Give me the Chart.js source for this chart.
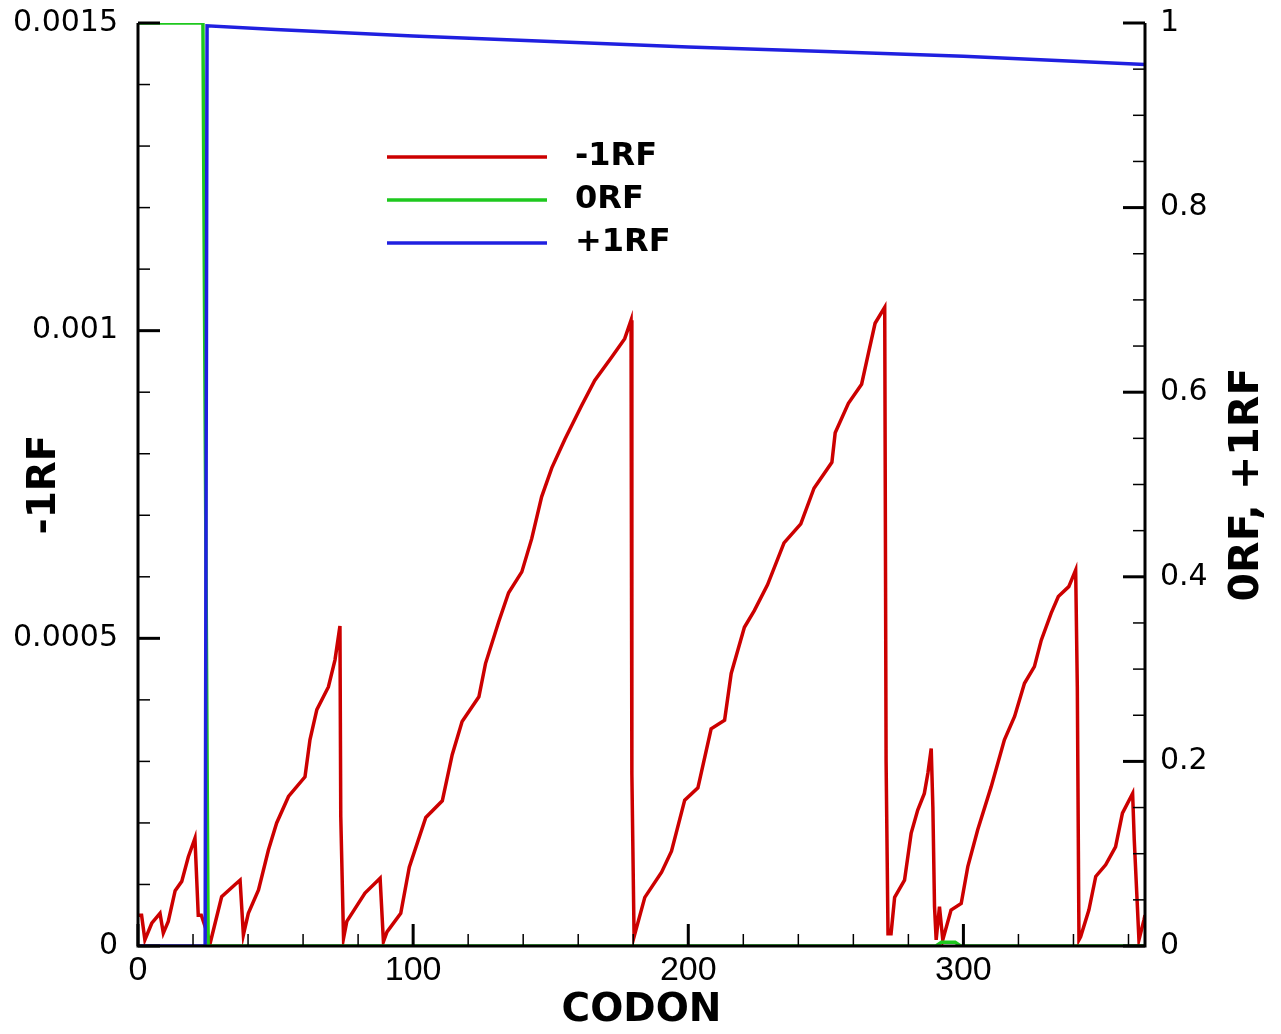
<!DOCTYPE html>
<html><head><meta charset="utf-8">
<script src="https://cdn.jsdelivr.net/npm/chart.js@4.4.1/dist/chart.umd.min.js"></script>
<style>html,body{margin:0;padding:0;background:#fff;}canvas{display:block;}</style>
</head><body>
<canvas id="c" width="1281" height="1034"></canvas>
<script>
// ---- data ----
const redCodon = [0,1.3,2.5,5,8,9.2,11,13.5,15.9,18.3,20.7,21.9,23,24.5,26.2,30.4,35.3,37.1,38.3,40.1,43.8,47.4,50.4,54.7,60.7,62.5,65,69.2,71.6,73.4,73.7,74.7,75.9,82.5,88,89.2,90.5,95.5,98.6,104.6,110.6,114.2,117.8,123.9,126.3,131.1,134.7,139.5,143.1,146.7,150.4,155.2,161.2,166,172,176.9,179.2,179.5,180.3,184.2,190.3,193.9,198.7,203.5,208.3,213.2,215.6,220.4,224,228.8,234.8,240.9,245.7,252.2,253.4,258.2,263,265.5,267.9,271.4,271.9,272.6,273.7,275,278.6,281,283.4,285.8,287.1,288.3,288.9,289.5,290.1,291.3,292.5,295.5,299.2,301.6,305.2,310.1,314.9,318.6,322.2,325.8,328.3,331.9,334.5,338.3,340.8,341.4,342.0,342.6,345.6,348.1,351.7,355.3,357.8,361.5,362.1,363.8,365.6,366];
const redValue = [0.00005,0.00005,0.00001,0.000037,0.000053,0.000021,0.00004,0.00009,0.000105,0.000145,0.000175,0.00005,0.00005,0.00003,0.000004,0.00008,0.0001,0.000107,0.000018,0.000053,0.000091,0.000156,0.0002,0.000243,0.000275,0.000335,0.000384,0.000421,0.000465,0.00052,0.00021,0.0000125,0.00004,0.000086,0.00011,0.000007,0.000023,0.000053,0.000128,0.000209,0.000236,0.000311,0.000365,0.000405,0.000459,0.000527,0.000574,0.000608,0.000662,0.00073,0.000777,0.000824,0.000878,0.000919,0.000956,0.000987,0.001017,0.00028,0.000015,0.000079,0.00012,0.000154,0.000237,0.000257,0.000353,0.000367,0.000443,0.000518,0.000545,0.000587,0.000655,0.000686,0.000744,0.000786,0.000834,0.000882,0.000913,0.000964,0.001012,0.001038,0.0003,0.00002,0.00002,0.000079,0.000107,0.000183,0.000221,0.000248,0.000281,0.000321,0.000226,0.000064,0.00001,0.000064,0.00001,0.0000585,0.000069,0.000129,0.000189,0.000259,0.000335,0.000373,0.000427,0.000454,0.000497,0.000541,0.000568,0.000584,0.000611,0.000421,0.00001,0.000015,0.0000585,0.000113,0.000132,0.000161,0.000216,0.000248,0.000172,0.00001,0.000042,0.00005];
const greenCodon = [0,23.6,25.5,290,292,297,299,366];
const greenValue = [1,1,0,0,0.004,0.004,0,0];
const blueCodon = [0,24.4,25.1,50,100,150,200,250,300,366];
const blueValue = [0,0,0.997,0.993,0.986,0.980,0.974,0.969,0.964,0.955];
const xTickValues = [0,100,200,300];
const leftTickValues = [0,0.0005,0.001,0.0015];
const rightTickValues = [0,0.2,0.4,0.6,0.8,1];
const seriesLabels = ['-1RF','0RF','+1RF'];
const seriesColors = ['#cc0000','#1ec81e','#2020e0'];
const xTitle = 'CODON', leftTitle = '-1RF', rightTitle = '0RF, +1RF';

const toPts = (xs, ys) => xs.map((x, i) => ({x, y: ys[i]}));

const decor = {
  id: 'decor',
  afterDatasetsDraw(chart) {
    const {ctx, chartArea: a, scales} = chart;
    const x = scales.x, yl = scales.yL, yr = scales.yR;
    ctx.save();
    ctx.strokeStyle = '#000';
    ctx.lineCap = 'butt';
    ctx.lineWidth = 3;
    ctx.beginPath();
    ctx.moveTo(a.left, a.top); ctx.lineTo(a.left, a.bottom); ctx.lineTo(a.right, a.bottom); ctx.lineTo(a.right, a.top);
    ctx.stroke();
    const tick = (x1, y1, x2, y2, w) => { ctx.lineWidth = w; ctx.beginPath(); ctx.moveTo(x1, y1); ctx.lineTo(x2, y2); ctx.stroke(); };
    for (let i = 0; i * 20 <= x.max; i++) {
      const px = x.getPixelForValue(i * 20), maj = i % 5 === 0;
      tick(px, a.bottom, px, a.bottom - (maj ? 22 : 12), maj ? 3 : 1.5);
    }
    for (let i = 0; i <= 15; i++) {
      const py = yl.getPixelForValue(i * 0.0001), maj = i % 5 === 0;
      tick(a.left, py, a.left + (maj ? 22 : 12), py, maj ? 3 : 1.5);
    }
    for (let i = 0; i <= 20; i++) {
      const py = yr.getPixelForValue(i * 0.05), maj = i % 4 === 0;
      tick(a.right, py, a.right - (maj ? 22 : 12), py, maj ? 3 : 1.5);
    }
    ctx.font = 'bold 32px "DejaVu Sans", sans-serif';
    ctx.textBaseline = 'middle';
    ctx.textAlign = 'left';
    ctx.fillStyle = '#000';
    seriesLabels.forEach((lab, i) => {
      const y = 157 + i * 43;
      ctx.strokeStyle = seriesColors[i];
      tick(387, y, 547, y, 3.5);
      ctx.fillText(lab, 575, y);
    });
    ctx.textAlign = 'center';
    ctx.font = 'bold 39px "DejaVu Sans", sans-serif';
    ctx.fillText(xTitle, (a.left + a.right) / 2, 1011);
    ctx.save(); ctx.translate(45, (a.top + a.bottom) / 2); ctx.rotate(-Math.PI / 2); ctx.fillText(leftTitle, 0, 0); ctx.restore();
    ctx.font = 'bold 41px "DejaVu Sans", sans-serif';
    ctx.save(); ctx.translate(1247, (a.top + a.bottom) / 2); ctx.rotate(-Math.PI / 2); ctx.fillText(rightTitle, 0, 0); ctx.restore();
    ctx.restore();
  }
};

const noPad = s => { s.paddingTop = 0; s.paddingBottom = 0; s.paddingLeft = 0; s.paddingRight = 0; };

new Chart(document.getElementById('c'), {
  type: 'line',
  data: {
    datasets: [
      {label: seriesLabels[0], data: toPts(redCodon, redValue), yAxisID: 'yL', borderColor: seriesColors[0], borderWidth: 3.5, pointRadius: 0, tension: 0, order: 2},
      {label: seriesLabels[1], data: toPts(greenCodon, greenValue), yAxisID: 'yR', borderColor: seriesColors[1], borderWidth: 3.5, pointRadius: 0, tension: 0, order: 1},
      {label: seriesLabels[2], data: toPts(blueCodon, blueValue), yAxisID: 'yR', borderColor: seriesColors[2], borderWidth: 3.5, pointRadius: 0, tension: 0, order: 0}
    ]
  },
  options: {
    responsive: false,
    animation: false,
    devicePixelRatio: 1,
    layout: {padding: {top: 23, left: 0, right: 0, bottom: 0}},
    plugins: {legend: {display: false}, tooltip: {enabled: false}},
    scales: {
      x: {
        type: 'linear', position: 'bottom', min: 0, max: 366,
        grid: {display: false, tickLength: 8}, border: {display: false},
        afterBuildTicks: s => { s.ticks = xTickValues.map(v => ({value: v})); },
        afterFit: s => { s.height = 88; noPad(s); },
        ticks: {padding: 0, color: '#000', font: {family: '"Liberation Sans", Arial, sans-serif', size: 34, lineHeight: 1}, maxRotation: 0, callback: v => String(v)}
      },
      yL: {
        type: 'linear', position: 'left', min: 0, max: 0.0015,
        grid: {display: false, tickLength: 8}, border: {display: false},
        afterBuildTicks: s => { s.ticks = leftTickValues.map(v => ({value: v})); },
        afterFit: s => { s.width = 138; noPad(s); },
        ticks: {padding: 12, color: '#000', font: {family: '"DejaVu Sans", sans-serif', size: 30, lineHeight: 1}, callback: v => String(v)}
      },
      yR: {
        type: 'linear', position: 'right', min: 0, max: 1,
        grid: {display: false, tickLength: 8}, border: {display: false},
        afterBuildTicks: s => { s.ticks = rightTickValues.map(v => ({value: v})); },
        afterFit: s => { s.width = 136; noPad(s); },
        ticks: {padding: 7, color: '#000', font: {family: '"DejaVu Sans", sans-serif', size: 30, lineHeight: 1}, callback: v => String(v)}
      }
    }
  },
  plugins: [decor]
});
</script>
</body></html>
